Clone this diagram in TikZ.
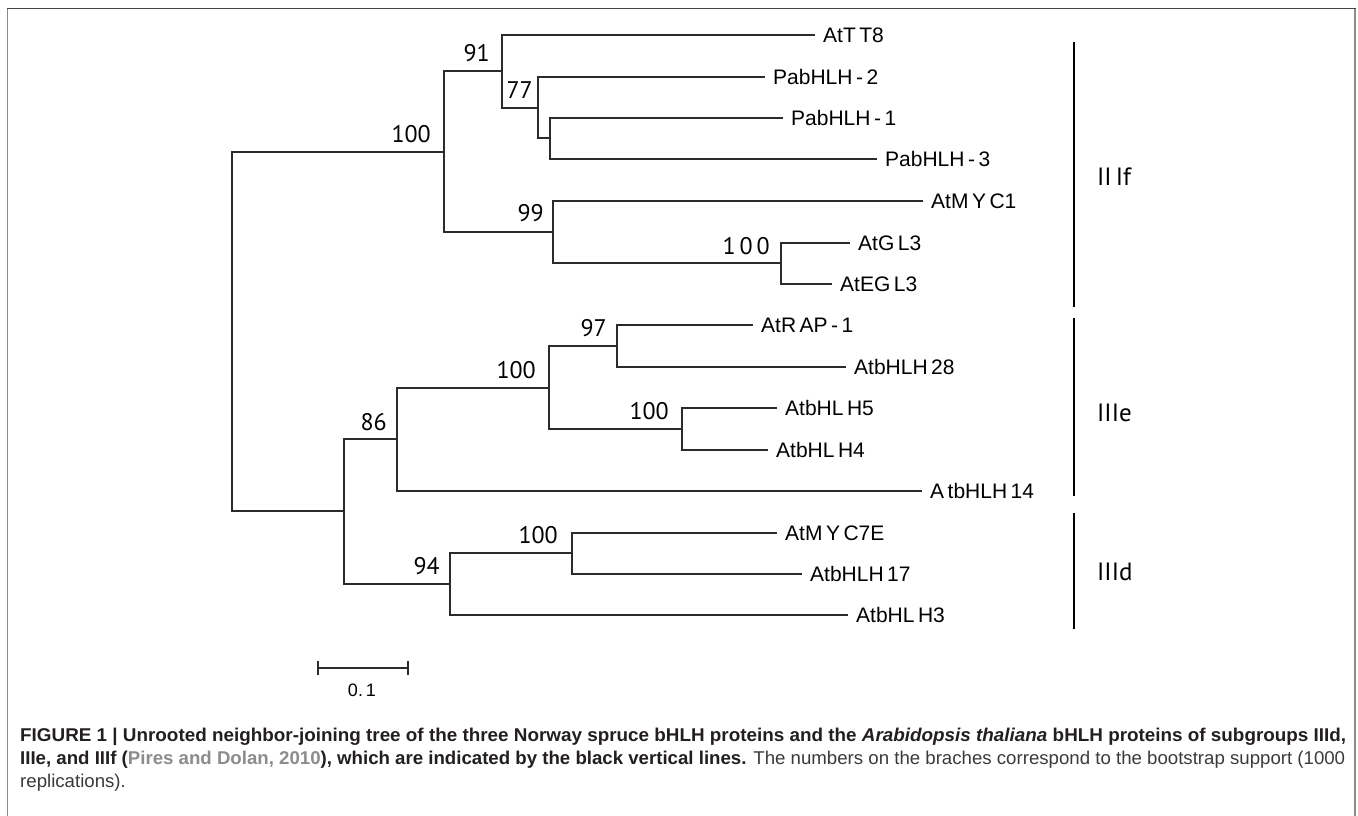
\documentclass[tikz,border=0pt]{standalone}
\usepackage{fontspec}
\usepackage{graphicx}
\setmainfont{Liberation Sans}
\newfontfamily\numfont{PT Sans}
\definecolor{treecol}{HTML}{2B2B2B}
\definecolor{framegray}{HTML}{8A8A8A}
\definecolor{frametop}{HTML}{444444}
\definecolor{capblack}{HTML}{231F20}
\definecolor{citegray}{HTML}{8C8C8C}
\definecolor{captext}{HTML}{3A3A3A}
\newsavebox\capboxA
\newsavebox\capboxB
\newsavebox\capboxC
\newlength\capwA
\newlength\capwB
\tikzset{
  branch/.style={draw=treecol, line width=1.4pt, line join=miter},
  leaf/.style={anchor=west, inner xsep=8pt, inner ysep=0pt, font=\fontsize{21}{25}\selectfont, text height=15pt, text depth=0pt, text=black},
  boot/.style={anchor=east, inner sep=0pt, font=\numfont\fontsize{24}{27}\selectfont, text height=16.5pt, text depth=0pt, text=black},
  groupbar/.style={draw=black, line width=2.6pt},
  grouplab/.style={anchor=west, inner sep=0pt, font=\numfont\fontsize{25}{28}\selectfont, text height=17.5pt, text depth=0pt, text=black},
}
\begin{document}
\sbox\capboxA{\fontsize{18.5}{21}\selectfont\color{capblack}\bfseries FIGURE 1 | Unrooted neighbor-joining tree of the three Norway spruce bHLH proteins and the \textit{Arabidopsis thaliana} bHLH proteins of subgroups IIId,}%
\sbox\capboxB{\fontsize{18.5}{21}\selectfont\color{capblack}{\bfseries IIIe, and IIIf (}{\color{citegray}\bfseries Pires and Dolan, 2010}{\bfseries ), which are indicated by the black vertical lines.} {\color{captext}The numbers on the braches correspond to the bootstrap support (1000}}%
\sbox\capboxC{\fontsize{18.5}{21}\selectfont\color{captext}replications).}%
\setlength\capwA{\wd\capboxA}%
\setlength\capwB{\wd\capboxB}%
\pgfmathsetmacro\scA{1326/\capwA}%
\pgfmathsetmacro\scB{1325/\capwB}%
\begin{tikzpicture}[x=1pt,y=-1pt]
\useasboundingbox (0,0) rectangle (1358,816);
\fill[white] (0,0) rectangle (1358,816);
% frame
\draw[framegray, line width=1.5pt] (7.5,816) -- (7.5,8.5);
\draw[framegray, line width=1.5pt] (1355,816) -- (1355,8.5);
\draw[frametop, line width=1.5pt] (7,8.5) -- (1356,8.5);

% internal nodes
\coordinate (root) at (232,331);
\coordinate (A) at (444,152);
\coordinate (B) at (502,71);
\coordinate (C) at (538,108);
\coordinate (D) at (550,138);
\coordinate (E) at (553,232);
\coordinate (F) at (781,263);
\coordinate (G) at (344,511);
\coordinate (H) at (397,439);
\coordinate (I) at (549,388);
\coordinate (J) at (617,346);
\coordinate (K) at (682,429);
\coordinate (L) at (450,584);
\coordinate (M) at (572,553);

% leaves
\node[leaf] (tt8) at (815,35) {AtT\,T8};
\node[leaf] (pab2) at (765,77) {PabHLH\,-\,2};
\node[leaf] (pab1) at (783,118) {PabHLH\,-\,1};
\node[leaf] (pab3) at (877,159) {PabHLH\,-\,3};
\node[leaf] (myc1) at (923,201) {AtM\,Y\,C1};
\node[leaf] (gl3) at (850,243) {AtG\,L3};
\node[leaf] (egl3) at (832,284) {AtEG\,L3};
\node[leaf] (rap1) at (753,325) {AtR\,AP\,-\,1};
\node[leaf] (h28) at (846,367) {AtbHLH\,28};
\node[leaf] (h5) at (777,408) {AtbHL\,H5};
\node[leaf] (h4) at (768,450) {AtbHL\,H4};
\node[leaf] (h14) at (922,491) {A\,tbHLH\,14};
\node[leaf] (myc7e) at (777,533) {AtM\,Y\,C7E};
\node[leaf] (h17) at (802,574) {AtbHLH\,17};
\node[leaf] (h3) at (848,615) {AtbHL\,H3};

% branches
\path[branch] (root) |- (A);
\path[branch] (root) |- (G);
\path[branch] (A) |- (B);
\path[branch] (A) |- (E);
\path[branch] (B) |- (tt8.west);
\path[branch] (B) |- (C);
\path[branch] (C) |- (pab2.west);
\path[branch] (C) |- (D);
\path[branch] (D) |- (pab1.west);
\path[branch] (D) |- (pab3.west);
\path[branch] (E) |- (myc1.west);
\path[branch] (E) |- (F);
\path[branch] (F) |- (gl3.west);
\path[branch] (F) |- (egl3.west);
\path[branch] (G) |- (H);
\path[branch] (G) |- (L);
\path[branch] (H) |- (I);
\path[branch] (H) |- (h14.west);
\path[branch] (I) |- (J);
\path[branch] (I) |- (K);
\path[branch] (J) |- (rap1.west);
\path[branch] (J) |- (h28.west);
\path[branch] (K) |- (h5.west);
\path[branch] (K) |- (h4.west);
\path[branch] (L) |- (M);
\path[branch] (L) |- (h3.west);
\path[branch] (M) |- (myc7e.west);
\path[branch] (M) |- (h17.west);

% bootstrap values
\node[boot] (bA) at (431,134) {100};
\node[boot] (bB) at (490,53) {91};
\node[boot] (bC) at (533,90) {77};
\node[boot] (bE) at (544,213) {99};
\node[boot] (bF) at (770,246) {1\,0\,0};
\node[boot] (bH) at (387,422) {86};
\node[boot] (bI) at (536,370) {100};
\node[boot] (bJ) at (607,328) {97};
\node[boot] (bK) at (669,411) {100};
\node[boot] (bL) at (440,566) {94};
\node[boot] (bM) at (558,535) {100};

% group bars
\coordinate (fTop) at (1074,42);
\coordinate (fBot) at (1074,307);
\coordinate (eTop) at (1074,318);
\coordinate (eBot) at (1074,496);
\coordinate (dTop) at (1074,513);
\coordinate (dBot) at (1074,629);
\draw[groupbar] (fTop) -- (fBot);
\draw[groupbar] (eTop) -- (eBot);
\draw[groupbar] (dTop) -- (dBot);
\node[grouplab] (gf) at (1097,177) {II\,If};
\node[grouplab] (ge) at (1097,413) {IIIe};
\node[grouplab] (gd) at (1097,572) {IIId};

% scale bar
\coordinate (sb1) at (318,668);
\coordinate (sb2) at (408,668);
\draw[treecol, line width=1.4pt] (sb1) -- (sb2);
\draw[treecol, line width=1.4pt] ([yshift=7pt]sb1) -- ([yshift=-7pt]sb1);
\draw[treecol, line width=1.4pt] ([yshift=7pt]sb2) -- ([yshift=-7pt]sb2);
\node[inner sep=0pt, font=\fontsize{18}{21}\selectfont, text height=13pt, text depth=0pt] (sblab) at (362,690) {0.\,1};

% caption
\node[anchor=base west, inner sep=0pt] (cap1) at (20,741) {\scalebox{\scA}[1]{\usebox\capboxA}};
\node[anchor=base west, inner sep=0pt] (cap2) at (20,764) {\scalebox{\scB}[1]{\usebox\capboxB}};
\node[anchor=base west, inner sep=0pt] (cap3) at (20,787) {\scalebox{\scB}[1]{\usebox\capboxC}};
\end{tikzpicture}
\end{document}
